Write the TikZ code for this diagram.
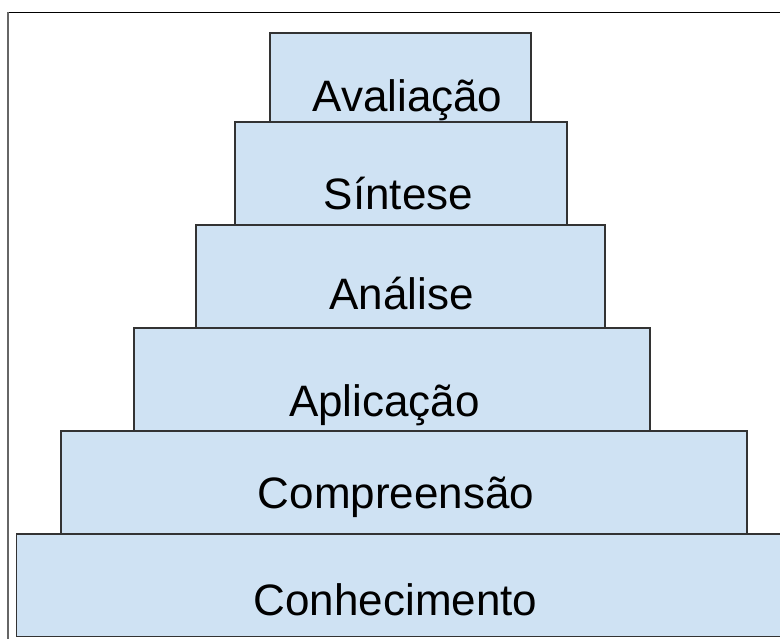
\documentclass[tikz,border=0pt]{standalone}
\usepackage{fontspec}
\setmainfont{Liberation Sans}
\definecolor{boxfill}{HTML}{CFE2F3}
\definecolor{boxline}{HTML}{333333}
\begin{document}
\begin{tikzpicture}[x=1pt,y=-1pt,
  box/.style={fill=boxfill,draw=boxline,line width=1.6pt},
  lbl/.style={anchor=base,inner sep=0pt,font=\fontsize{44}{50}\selectfont},
  frame/.style={line width=1.2pt}]
\useasboundingbox (0,0) rectangle (780,639);
\clip (0,0) rectangle (780,639);
\fill[white] (0,0) rectangle (780,639);
% outer frame (top and left)
\coordinate (ftl) at (8,12.5);
\coordinate (ftr) at (785,12.5);
\coordinate (fbl) at (8,645);
\draw[frame,black] (ftr) -- (ftl);
\draw[frame,black!60] (ftl) -- (fbl);
% steps
\draw[box] (270,33) rectangle (531,122);
\draw[box] (235,122) rectangle (567,225);
\draw[box] (196,225) rectangle (605,328);
\draw[box] (134,328) rectangle (650,431);
\draw[box] (61,431) rectangle (747,534);
\draw[box] (16.5,534) rectangle (795,636.5);
% labels
\node[lbl] (aval) at (407.5,112) {Avaliação};
\node[lbl] (sint) at (398.5,210) {Síntese};
\node[lbl] (anal) at (401.5,310) {Análise};
\node[lbl] (apli) at (384.5,416.7) {Aplicação};
\node[lbl] (comp) at (396,508) {Compreensão};
\node[lbl] (conh) at (395.5,615) {Conhecimento};
\end{tikzpicture}
\end{document}
